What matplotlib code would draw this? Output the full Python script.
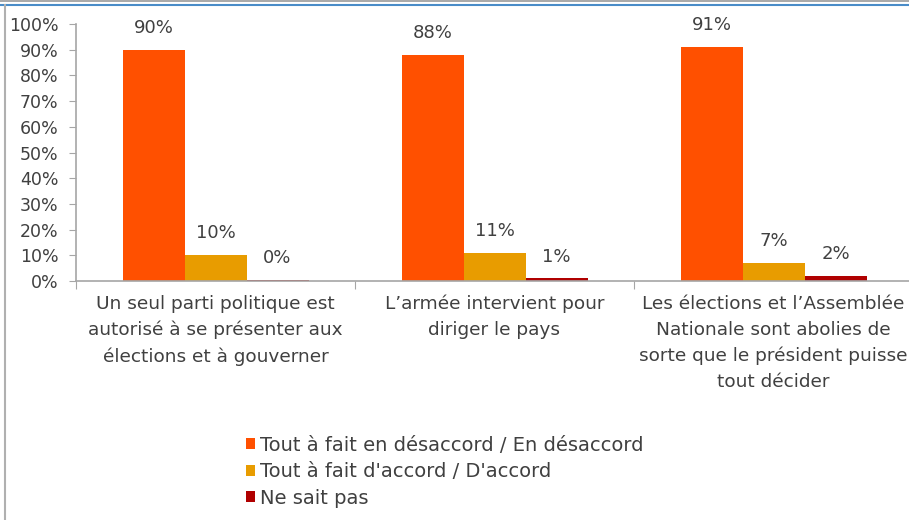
import numpy as np
import matplotlib.pyplot as plt
from matplotlib.lines import Line2D

# data
categories = [
    "Un seul parti politique est\nautorisé à se présenter aux\nélections et à gouverner",
    "L’armée intervient pour\ndiriger le pays",
    "Les élections et l’Assemblée\nNationale sont abolies de\nsorte que le président puisse\ntout décider",
]
series_names = [
    "Tout à fait en désaccord / En désaccord",
    "Tout à fait d'accord / D'accord",
    "Ne sait pas",
]
desaccord = [90, 88, 91]
accord = [10, 11, 7]
ne_sait_pas = [0.3, 1, 2]
yticks = [0, 10, 20, 30, 40, 50, 60, 70, 80, 90, 100]

COLORS = ["#ff5000", "#e89c00", "#b00000"]
TEXT = "#404040"
AXIS = "#a6a6a6"

plt.rcParams.update({
    "font.family": ["DejaVu Sans"],
    "font.size": 12,
})

fig = plt.figure(figsize=(9.09, 5.2), dpi=100)
ax = fig.add_axes([76 / 909, 1 - 281 / 520, 837 / 909, 257 / 520])

x = np.arange(len(categories))
w = 1 / 4.5
all_series = [desaccord, accord, ne_sait_pas]
handles = []
for i, (vals, col) in enumerate(zip(all_series, COLORS)):
    pos = x + (i - 1) * w
    bars = ax.bar(pos, vals, width=w, color=col, edgecolor="none", zorder=2)
    handles.append(bars)
    for px, v in zip(pos, vals):
        ax.text(px, v + 8.5, f"{v:.0f}%", ha="center", va="center",
                fontsize=13, color=TEXT)

ax.set_xlim(-0.5, 2.5)
ax.set_ylim(0, 100)
ax.set_yticks(yticks)
ax.set_yticklabels([f"{t}%" for t in yticks], color=TEXT, fontsize=12.5)
ax.set_xticks([-0.5, 0.5, 1.5])
ax.set_xticklabels([])
ax.tick_params(axis="y", length=5, color=AXIS, pad=7.5)
ax.tick_params(axis="x", length=6, color=AXIS)
for s in ("top", "right"):
    ax.spines[s].set_visible(False)
for s in ("left", "bottom"):
    ax.spines[s].set_color(AXIS)
    ax.spines[s].set_linewidth(1.2)

for xi, lab in zip(x, categories):
    ax.text(xi, -5.4, lab, ha="center", va="top", fontsize=13.3, color=TEXT,
            linespacing=1.55, transform=ax.transData, clip_on=False)

leg = fig.legend(handles, series_names, loc="upper left",
                 bbox_to_anchor=(236 / 909, 1 - 426 / 520), frameon=False,
                 fontsize=14, handlelength=0.5, handleheight=0.5,
                 handletextpad=0.25, labelspacing=0.38, borderpad=0)
for t in leg.get_texts():
    t.set_color(TEXT)

# frame lines of the original slide
fig.add_artist(Line2D([0, 1], [1 - 1 / 520, 1 - 1 / 520], transform=fig.transFigure,
                      color="#9a9a9a", lw=1.2))
fig.add_artist(Line2D([0, 1], [1 - 4.5 / 520, 1 - 4.5 / 520], transform=fig.transFigure,
                      color="#4a8cc8", lw=1.5))
fig.add_artist(Line2D([5 / 909, 5 / 909], [0, 1 - 5 / 520], transform=fig.transFigure,
                      color="#b0b0b0", lw=1.5))

fig.savefig("out.png", dpi=100)
